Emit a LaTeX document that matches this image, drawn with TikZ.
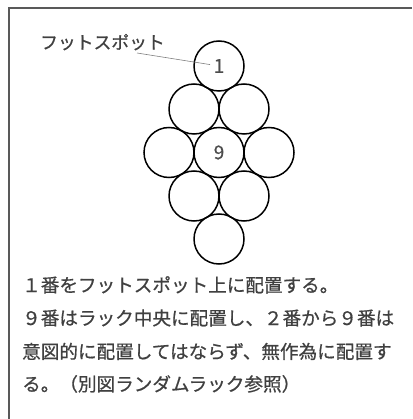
\documentclass[tikz,border=0pt]{standalone}
\usepackage{fontspec}
\setmainfont{Noto Sans CJK JP}[FakeBold=0.7]
\usepackage{tikz}
\tikzset{
  ball/.style={draw, circle, minimum size=50pt, inner sep=0pt, line width=1.5pt,
    font=\fontsize{19}{19}\selectfont, text=black!70},
  txt/.style={anchor=base west, inner sep=0pt, text=black!75,
    font=\fontsize{18.6}{18.6}\selectfont},
}

\begin{document}
\begin{tikzpicture}[x=1pt, y=-1pt]
    \useasboundingbox (0, 0) rectangle (412, 419);
    \draw [line width=2pt, black!65] (9, 419) -- (9, 8) -- (412, 8);
    \node [ball] (T) at (219, 66) {1};
    \node [ball] (TL) at (194, 109) {};
    \node [ball] (TR) at (244, 109) {};
    \node [ball] (L) at (169, 152.5) {};
    \node [ball] (C) at (219, 152.5) {9};
    \node [ball] (R) at (269, 152.5) {};
    \node [ball] (BL) at (194, 196) {};
    \node [ball] (BR) at (244, 196) {};
    \node [ball] (B) at (219, 239) {};
    \node [txt, font=\fontsize{17.8}{17.8}\selectfont] (spot) at (40, 49) {フットスポット};
    \coordinate (lead) at (137, 53);
    \draw [black!50, line width=0.6pt, shorten >=9pt] (lead) -- (T.center);
    \node [txt] (line1) at (22, 292) {１番をフットスポット上に配置する。};
    \node [txt] (line2) at (22, 325) {９番はラック中央に配置し、２番から９番は};
    \node [txt] (line3) at (22, 358.5) {意図的に配置してはならず、無作為に配置す};
    \node [txt] (line4) at (22, 391) {る。（別図ランダムラック参照）};
\end{tikzpicture}
\end{document}
